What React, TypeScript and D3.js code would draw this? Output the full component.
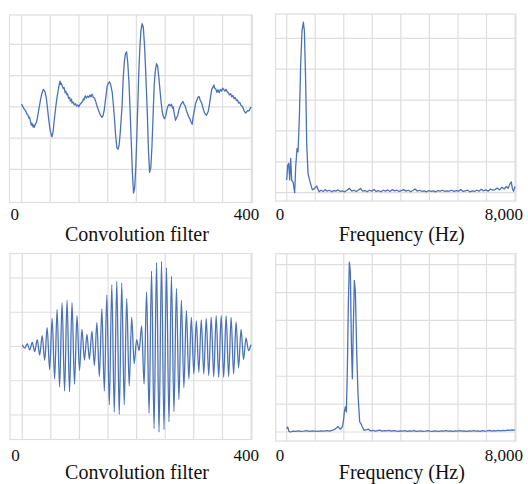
import React from 'react';
import * as d3 from 'd3';

// filter A (top-left), [sample, value]
const filterA: [number, number][] = [
  [0, 0.09], [2, 0.02], [4, -0.05], [6, -0.1], [8, -0.16], [9, -0.22], [11, -0.25], [13, -0.37], [14, -0.33],
  [16, -0.5], [17, -0.59], [18, -0.52], [20, -0.64], [21, -0.58], [22, -0.66], [24, -0.56], [26, -0.5], [28, -0.32],
  [30, -0.1], [33, 0.21], [35, 0.4], [38, 0.56], [39, 0.53], [41, 0.48], [43, 0.3], [45, 0], [47, -0.35], [49, -0.64],
  [51, -0.85], [53, -0.96], [55, -0.8], [57, -0.43], [60, 0.05], [62, 0.32], [65, 0.65], [67, 0.82], [68, 0.72],
  [69, 0.76], [71, 0.66], [73, 0.58], [74, 0.62], [76, 0.45], [77, 0.5], [79, 0.38], [80, 0.42], [82, 0.27], [84, 0.3],
  [85, 0.18], [87, 0.24], [88, 0.12], [90, 0.15], [92, 0.06], [94, 0.1], [96, 0.02], [98, 0.06], [100, 0.0], [102, 0.08],
  [104, 0.12], [106, 0.16], [108, 0.26], [109, 0.22], [111, 0.35], [113, 0.28], [115, 0.34], [117, 0.3], [119, 0.38],
  [121, 0.32], [123, 0.4], [125, 0.3], [127, 0.28], [129, 0.18], [131, 0.05], [134, -0.11], [137, -0.25], [140, -0.34],
  [142, -0.28], [144, -0.11], [146, 0.2], [149, 0.64], [151, 0.75], [153, 0.8], [155, 0.72], [158, 0.45], [160, 0.05],
  [162, -0.43], [164, -0.95], [166, -1.3], [168, -1.36], [170, -1.22], [172, -0.8], [175, 0], [177, 0.9], [179, 1.45],
  [181, 1.7], [183, 1.76], [185, 1.4], [187, 0.8], [189, -0.1], [191, -1.1], [193, -2.1], [195, -2.76], [197, -2.6],
  [199, -1.9], [201, -0.8], [204, 1.0], [206, 1.9], [208, 2.45], [210, 2.66], [212, 2.55], [214, 2.0], [216, 1.2],
  [219, -0.2], [221, -1.4], [223, -2.1], [225, -1.95], [227, -1.3], [229, -0.3], [231, 0.7], [233, 1.15], [235, 1.38],
  [237, 1.3], [239, 0.95], [241, 0.55], [243, 0.15], [245, -0.15], [247, -0.32], [249, -0.38], [251, -0.3], [253, -0.1],
  [255, 0.02], [257, 0.08], [259, 0.03], [261, 0.08], [263, -0.05], [264, 0.0], [266, -0.22], [268, -0.43], [270, -0.35],
  [272, -0.27], [274, -0.1], [277, 0.06], [279, 0.12], [281, 0.17], [283, 0.08], [285, 0.02], [287, -0.12], [289, -0.22],
  [291, -0.32], [293, -0.38], [295, -0.48], [297, -0.56], [299, -0.3], [301, -0.1], [303, 0.1], [305, 0.2], [307, 0.3],
  [309, 0.33], [311, 0.22], [314, 0.1], [316, -0.05], [318, -0.16], [320, -0.24], [322, -0.27], [325, -0.15], [327, 0.05],
  [329, 0.3], [331, 0.55], [333, 0.62], [335, 0.7], [336, 0.6], [338, 0.58], [340, 0.46], [342, 0.55], [344, 0.45],
  [346, 0.55], [348, 0.5], [350, 0.6], [352, 0.55], [354, 0.5], [356, 0.56], [358, 0.48], [360, 0.45], [362, 0.38],
  [364, 0.42], [366, 0.32], [368, 0.36], [370, 0.26], [372, 0.3], [374, 0.2], [376, 0.22], [378, 0.12], [380, 0.14],
  [382, 0.05], [384, 0.02], [386, -0.05], [388, -0.15], [390, -0.2], [392, -0.16], [394, -0.12], [396, -0.13],
  [398, -0.05], [400, 0],
];

// filter B (bottom-left): peak / trough values, evenly spaced over 0..400
const filterBPeaks = [
  0.05, -0.05, 0.08, -0.1, 0.12, -0.15, 0.2, -0.25, 0.32, -0.4, 0.55, -0.68, 0.82, -0.95, 1.08, -1.18, 1.28, -1.3,
  1.35, -1.32, 1.28, -1.1, 0.9, -0.7, 0.5, -0.4, 0.35, -0.38, 0.45, -0.55, 0.7, -0.88, 1.1, -1.3, 1.5, -1.7, 1.8,
  -1.92, 1.9, -1.98, 1.85, -1.7, 1.4, -1.15, 0.85, -0.5, 0.2, -0.12, 0.6, -1.1, 1.6, -1.95, 2.2, -2.4, 2.45, -2.5,
  2.48, -2.42, 2.3, -2.2, 2.05, -1.9, 1.7, -1.55, 1.35, -1.2, 1.05, -0.95, 0.85, -0.8, 0.75, -0.75, 0.78, -0.8, 0.82,
  -0.85, 0.86, -0.88, 0.9, -0.9, 0.9, -0.9, 0.9, -0.88, 0.85, -0.8, 0.72, -0.62, 0.5, -0.38, 0.25, -0.12, 0.05,
];

// spectrum A (top-right), [Hz, magnitude]
const spectrumA: [number, number][] = [
  [0, 0.41], [35, 0.89], [70, 0.95], [105, 0.41], [140, 1.11], [175, 0.41], [222, 0.35], [280, 0], [315, 0.84],
  [362, 1.43], [397, 1.32], [444, 2.45], [490, 4.17], [537, 5.25], [584, 5.52], [620, 5.25], [666, 3.53], [701, 1.59],
  [748, 0.62], [818, 0.35], [900, 0.09], [981, 0.14], [1051, 0.22], [1133, 0.03], [1200, 0.08], [1280, 0.04],
  [1350, 0.1], [1420, 0.05], [1500, 0.08], [1580, 0.03], [1650, 0.07], [1720, 0.05], [1800, 0.09], [1880, 0.04],
  [1950, 0.06], [2030, 0.03], [2100, 0.07], [2200, 0.14], [2280, 0.05], [2360, 0.08], [2440, 0.04], [2520, 0.09],
  [2590, 0.14], [2660, 0.05], [2740, 0.07], [2820, 0.03], [2900, 0.08], [2980, 0.05], [3060, 0.1], [3140, 0.04],
  [3220, 0.07], [3300, 0.03], [3380, 0.08], [3460, 0.05], [3540, 0.09], [3620, 0.04], [3700, 0.1], [3780, 0.06],
  [3860, 0.08], [3940, 0.04], [4020, 0.07], [4100, 0.1], [4180, 0.05], [4260, 0.08], [4340, 0.03], [4420, 0.07],
  [4500, 0.12], [4580, 0.05], [4660, 0.08], [4740, 0.04], [4820, 0.06], [4900, 0.03], [4980, 0.07], [5060, 0.04],
  [5140, 0.06], [5220, 0.03], [5300, 0.07], [5380, 0.05], [5460, 0.08], [5540, 0.04], [5620, 0.06], [5700, 0.05],
  [5780, 0.08], [5860, 0.04], [5940, 0.07], [6020, 0.05], [6100, 0.1], [6180, 0.04], [6260, 0.06], [6340, 0.08],
  [6420, 0.03], [6500, 0.06], [6580, 0.04], [6660, 0.08], [6740, 0.05], [6820, 0.11], [6900, 0.06], [6980, 0.09],
  [7060, 0.05], [7140, 0.12], [7220, 0.08], [7300, 0.1], [7380, 0.15], [7460, 0.09], [7540, 0.18], [7620, 0.12],
  [7700, 0.2], [7760, 0.14], [7830, 0.3], [7870, 0.35], [7910, 0.12], [7950, 0.05], [8000, 0.2],
];

// spectrum B (bottom-right), [Hz, magnitude]
const spectrumB: [number, number][] = [
  [0, 0.12], [35, 0.18], [82, 0.02], [140, 0], [220, 0.03], [300, 0.02], [400, 0.04], [500, 0.02], [600, 0.03],
  [700, 0.05], [800, 0.02], [900, 0.04], [1000, 0.03], [1100, 0.02], [1200, 0.04], [1300, 0.03], [1400, 0.05],
  [1500, 0.03], [1580, 0.06], [1650, 0.08], [1717, 0.12], [1799, 0.2], [1869, 0.1], [1930, 0.15], [1963, 0.24],
  [2000, 0.5], [2021, 0.72], [2056, 0.9], [2091, 0.72], [2126, 2.27], [2161, 4.66], [2196, 6.09], [2231, 5.73],
  [2266, 3.23], [2301, 1.91], [2336, 3.82], [2371, 5.44], [2407, 5.02], [2453, 2.87], [2500, 1.31], [2558, 0.36],
  [2605, 0.3], [2652, 0.18], [2710, 0.06], [2780, 0.08], [2862, 0.1], [2940, 0.04], [3020, 0.06], [3100, 0.03],
  [3180, 0.05], [3260, 0.07], [3340, 0.03], [3420, 0.05], [3500, 0.04], [3580, 0.06], [3660, 0.03], [3740, 0.05],
  [3820, 0.04], [3900, 0.02], [3980, 0.04], [4060, 0.03], [4140, 0.05], [4220, 0.02], [4300, 0.04], [4380, 0.03],
  [4460, 0.05], [4540, 0.02], [4620, 0.03], [4700, 0.04], [4780, 0.02], [4860, 0.03], [4940, 0.05], [5020, 0.03],
  [5100, 0.02], [5180, 0.04], [5260, 0.03], [5340, 0.02], [5420, 0.04], [5500, 0.03], [5580, 0.05], [5660, 0.03],
  [5740, 0.04], [5820, 0.02], [5900, 0.04], [5980, 0.03], [6060, 0.05], [6140, 0.03], [6220, 0.04], [6300, 0.02],
  [6380, 0.04], [6460, 0.03], [6540, 0.05], [6620, 0.03], [6700, 0.04], [6780, 0.02], [6860, 0.05], [6940, 0.03],
  [7020, 0.04], [7100, 0.06], [7180, 0.03], [7260, 0.05], [7340, 0.04], [7420, 0.06], [7500, 0.04], [7580, 0.06],
  [7660, 0.05], [7740, 0.07], [7820, 0.06], [7900, 0.08], [7960, 0.07], [8000, 0.08],
];

const filterTicks = d3.range(0, 401, 50);
const freqTicks = d3.range(0, 8001, 1000);
const filterLabels = ['0', '400'];
const freqLabels = ['0', '8,000'];
const filterTitle = 'Convolution filter';
const freqTitle = 'Frequency (Hz)';

const LINE = '#4a72b8';
const GRID = '#dedede';
const FONT = '"Liberation Serif", "Times New Roman", serif';

type PanelProps = {
  data: [number, number][];
  curve?: d3.CurveFactory;
  xDomain: [number, number];
  xRange: [number, number];
  yDomain: [number, number];
  yRange: [number, number];
  frame: { left: number; right: number; top: number; bottom: number };
  xTicks: number[];
  yTicks: number[];
  labels: string[];
  title: string;
  labelY: number;
  titleY: number;
};

function Panel(p: PanelProps) {
  const x = d3.scaleLinear().domain(p.xDomain).range(p.xRange);
  const y = d3.scaleLinear().domain(p.yDomain).range(p.yRange);
  const line = d3
    .line<[number, number]>()
    .x((d) => x(d[0]))
    .y((d) => y(d[1]))
    .curve(p.curve ?? d3.curveLinear);
  const f = p.frame;
  return (
    <g>
      {p.xTicks.map((t) => (
        <line key={'x' + t} x1={x(t)} x2={x(t)} y1={f.top} y2={f.bottom} stroke={GRID} strokeWidth={1.2} />
      ))}
      {p.yTicks.map((t) => (
        <line key={'y' + t} x1={f.left} x2={f.right} y1={y(t)} y2={y(t)} stroke={GRID} strokeWidth={1.2} />
      ))}
      <rect x={f.left} y={f.top} width={f.right - f.left} height={f.bottom - f.top} fill="none" stroke={GRID} strokeWidth={1.2} />
      <path d={line(p.data) ?? ''} fill="none" stroke={LINE} strokeWidth={1.3} strokeLinejoin="round" />
      <text x={x(p.xDomain[0]) - 11} y={p.labelY} fontFamily={FONT} fontSize={17} textAnchor="start" fill="#111">
        {p.labels[0]}
      </text>
      <text x={x(p.xDomain[1]) + 8} y={p.labelY} fontFamily={FONT} fontSize={17} textAnchor="end" fill="#111">
        {p.labels[1]}
      </text>
      <text x={(f.left + f.right) / 2 + 6} y={p.titleY} fontFamily={FONT} fontSize={20} textAnchor="middle" fill="#111">
        {p.title}
      </text>
    </g>
  );
}

export default function App() {
  const stepB = 400 / (filterBPeaks.length - 1);
  const filterB: [number, number][] = filterBPeaks.map((v, i) => [i * stepB, v]);
  return (
    <svg width={528} height={484} style={{ position: 'absolute', left: 0, top: 0, background: '#fff' }}>
      <Panel
        data={filterA}
        xDomain={[0, 400]}
        xRange={[21.5, 251.3]}
        yDomain={[-2, 2]}
        yRange={[169.3, 44.3]}
        frame={{ left: 9.5, right: 252.3, top: 15, bottom: 202.5 }}
        xTicks={filterTicks}
        yTicks={[-2, -1, 0, 1, 2]}
        labels={filterLabels}
        title={filterTitle}
        labelY={219.5}
        titleY={241}
      />
      <Panel
        data={spectrumA}
        xDomain={[0, 8000]}
        xRange={[286.7, 515]}
        yDomain={[0, 5]}
        yRange={[192.7, 38.3]}
        frame={{ left: 275.5, right: 516, top: 14, bottom: 201 }}
        xTicks={freqTicks}
        yTicks={[0, 1, 2, 3, 4, 5]}
        labels={freqLabels}
        title={freqTitle}
        labelY={219.5}
        titleY={241}
      />
      <Panel
        data={filterB}
        curve={d3.curveMonotoneX}
        xDomain={[0, 400]}
        xRange={[22.3, 251]}
        yDomain={[-2, 2]}
        yRange={[415, 278]}
        frame={{ left: 10, right: 252, top: 253.5, bottom: 439.5 }}
        xTicks={filterTicks}
        yTicks={[-2, -1, 0, 1, 2]}
        labels={filterLabels}
        title={filterTitle}
        labelY={461}
        titleY={479}
      />
      <Panel
        data={spectrumB}
        xDomain={[0, 8000]}
        xRange={[286.7, 515]}
        yDomain={[0, 6]}
        yRange={[432, 264.7]}
        frame={{ left: 275.7, right: 516, top: 253.7, bottom: 441 }}
        xTicks={freqTicks}
        yTicks={[0, 1, 2, 3, 4, 5, 6]}
        labels={freqLabels}
        title={freqTitle}
        labelY={461}
        titleY={479}
      />
    </svg>
  );
}
